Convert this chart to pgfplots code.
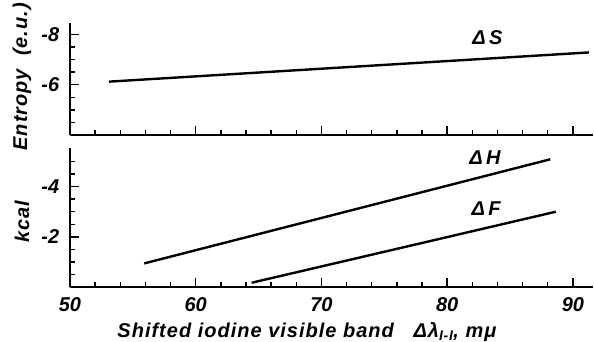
\documentclass[border=0pt]{standalone}
\usepackage{fontspec}
\setmainfont{Liberation Sans}
\usepackage{pgfplots}
\pgfplotsset{compat=1.18}
\begin{document}
\fontsize{20}{24}\selectfont\bfseries\itshape
\begin{tikzpicture}
\path[use as bounding box] (-70pt,-55pt) rectangle (524pt,287pt);
\pgfplotsset{
  every axis/.append style={
    scale only axis, width=523pt, xmin=50, xmax=91.6,
    axis x line=bottom, axis y line=left,
    axis line style={-, line width=2.2pt},
    tick align=inside, major tick length=9pt, minor tick length=5pt,
    tick style={black, line width=1.4pt},
    xtick={50,60,70,80,90},
    minor xtick={52,54,56,58,62,64,66,68,72,74,76,78,82,84,86,88},
    font=\fontsize{20}{24}\selectfont\bfseries\itshape,
    /pgf/number format/assume math mode=true,
    yticklabel style={xshift=-4pt},
    y dir=reverse,
    clip=false,
  }
}
% top panel: entropy
\begin{axis}[
  at={(0pt,152pt)}, height=112pt,
  ymin=-8.45, ymax=-4,
  ytick={-8,-6}, yticklabels={-8,-6},
  minor ytick={-7.5,-7,-6.5,-5.5,-5,-4.5},
  xticklabels={},
  ylabel={\addfontfeature{LetterSpace=5}Entropy\ \ (e.u.)},
  ylabel style={at={(axis description cs:-0.092,0.52)}, anchor=center},
]
\addplot[black, line width=2.4pt] coordinates {(53.1,-6.12) (91.27,-7.28)};
\node at (axis cs:83.2,-7.86) {Δ\,S};
\end{axis}
% bottom panel: kcal
\begin{axis}[
  at={(0pt,0pt)}, height=139pt,
  ymin=-5.54, ymax=0,
  ytick={-4,-2}, yticklabels={-4,-2},
  minor ytick={-5,-4.5,-3.5,-3,-2.5,-1.5,-1,-0.5},
  xticklabel style={yshift=-4pt},
  ylabel={\addfontfeature{LetterSpace=5}kcal},
  ylabel style={at={(axis description cs:-0.092,0.47)}, anchor=center},
  xlabel={\addfontfeature{LetterSpace=5}Shifted iodine visible band\ \ \ Δλ\textsubscript{I-I}, mμ},
  xlabel style={at={(axis description cs:0.453,0)}, anchor=center, yshift=-45pt},
]
\addplot[black, line width=2.4pt] coordinates {(55.9,-0.94) (88.2,-5.09)};
\addplot[black, line width=2.4pt] coordinates {(64.45,-0.17) (88.64,-3.0)};
\node at (axis cs:83.0,-5.14) {Δ\,H};
\node at (axis cs:83.1,-3.14) {Δ\,F};
\end{axis}
\end{tikzpicture}
\end{document}
